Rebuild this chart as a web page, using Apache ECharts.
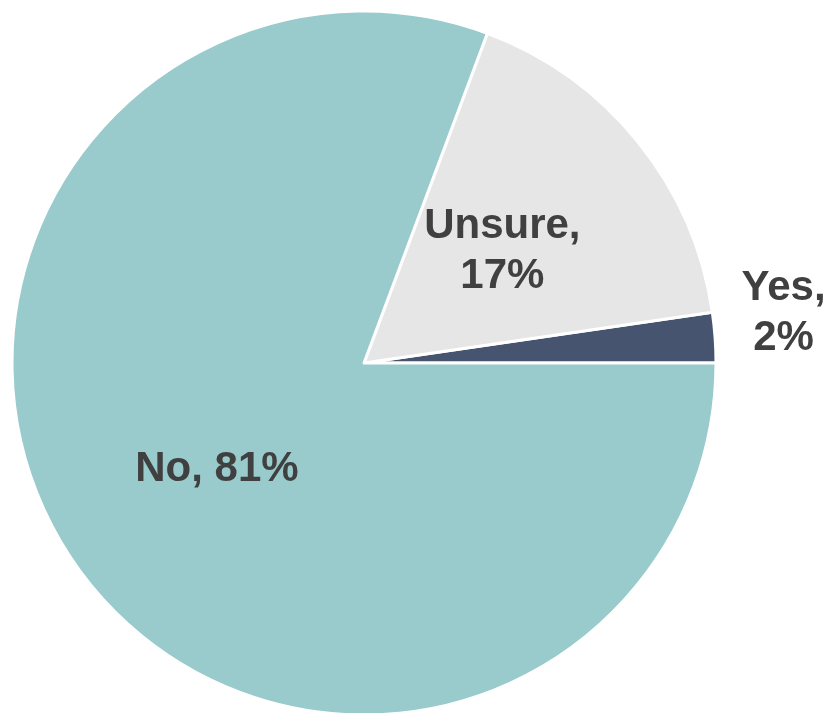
<!DOCTYPE html>
<html>
<head>
<meta charset="utf-8">
<script src="https://cdn.jsdelivr.net/npm/echarts@6/dist/echarts.min.js"></script>
<style>
html,body{margin:0;padding:0;background:#fff;}
#chart{width:828px;height:713px;}
</style>
</head>
<body>
<div id="chart"></div>
<script>
const categories = ['Yes', 'Unsure', 'No'];
const values = [2.3, 17.0, 80.7];
const labelPercents = ['2%', '17%', '81%'];
const colors = ['#46546F', '#E6E6E6', '#99CBCC'];

const labelOffsets = [[241, -37], [-1, 1], [0, 4]];

const chart = echarts.init(document.getElementById('chart'), null, {renderer: 'canvas'});
chart.setOption({
  animation: false,
  backgroundColor: '#ffffff',
  series: [{
    type: 'pie',
    center: [364, 363],
    radius: [0, 352],
    startAngle: 0,
    clockwise: false,
    avoidLabelOverlap: false,
    itemStyle: {borderColor: '#ffffff', borderWidth: 3},
    labelLine: {show: false},
    data: categories.map((c, i) => ({
      name: c,
      value: values[i],
      itemStyle: {color: colors[i]},
      label: {
        show: true,
        position: 'inside',
        offset: labelOffsets[i],
        formatter: i === 2 ? c + ', ' + labelPercents[i] : c + ',\n' + labelPercents[i],
        color: '#404040',
        fontFamily: 'Liberation Sans, Arial, sans-serif',
        fontWeight: 'bold',
        fontSize: 42,
        lineHeight: 50,
        align: 'center'
      }
    }))
  }]
});
</script>
</body>
</html>
